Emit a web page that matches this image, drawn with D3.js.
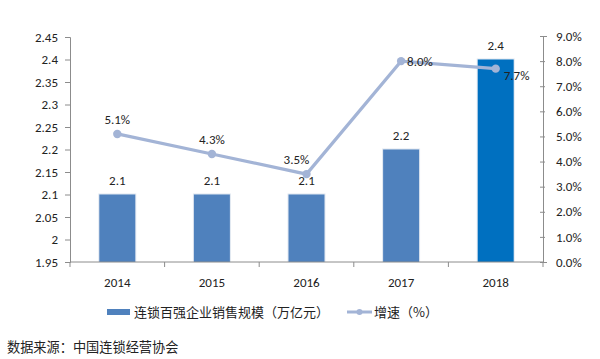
<!DOCTYPE html>
<html><head><meta charset="utf-8">
<script src="https://cdn.jsdelivr.net/npm/d3@7"></script>
<style>body{margin:0;background:#fff}svg{display:block}text{font-family:Calibri,"Liberation Sans","Noto Sans",sans-serif}</style>
</head><body><svg id="c" width="600" height="359"></svg>
<script>
const years = ["2014","2015","2016","2017","2018"];
const scale = [2.1, 2.1, 2.1, 2.2, 2.4];
const growth = [5.1, 4.3, 3.5, 8.0, 7.7];
const leftTicks = [1.95,2,2.05,2.1,2.15,2.2,2.25,2.3,2.35,2.4,2.45];
const rightTicks = [0,1,2,3,4,5,6,7,8,9];
const barName = "连锁百强企业销售规模（万亿元）";
const lineName = "增速（%）";
const source = "数据来源：中国连锁经营协会";

const svg = d3.select("#c");
const L = 70, R = 543, T = 37, B = 262;
const x = d3.scaleBand().domain(years).range([L, R]).paddingInner(0.62).paddingOuter(0.31);
const xb = d3.scaleBand().domain(years).range([L, R]);
const y = d3.scaleLinear().domain([1.95, 2.45]).range([B, T]);
const y2 = d3.scaleLinear().domain([0, 9]).range([B, T - 1]);
const axisColor = "#8c8c8c";

// left axis
const la = svg.append("g").attr("transform", `translate(${L},0)`)
  .call(d3.axisLeft(y).tickValues(leftTicks).tickSize(5).tickPadding(7).tickFormat(d => d3.format("")(+d.toFixed(2))));
la.selectAll("path,line").attr("stroke", axisColor);
la.selectAll("text").attr("font-size", 13).attr("fill", "#222");

// right axis
const ra = svg.append("g").attr("transform", `translate(${R},0)`)
  .call(d3.axisRight(y2).tickValues(rightTicks).tickSize(4).tickPadding(9).tickFormat(d => d.toFixed(1) + "%"));
ra.selectAll("path,line").attr("stroke", axisColor);
ra.selectAll("line").attr("x1", -3).attr("x2", 2);
ra.selectAll("text").attr("font-size", 13).attr("fill", "#222");

// bars
const bars = svg.append("g");
bars.selectAll("rect.sh").data(years).join("rect")
  .attr("x", d => x(d) - 1).attr("y", (d, i) => y(scale[i]) - 1)
  .attr("width", x.bandwidth() + 2).attr("height", (d, i) => B - y(scale[i]) + 1)
  .attr("fill", "#dfe6f0");
bars.selectAll("rect.b").data(years).join("rect")
  .attr("x", d => x(d)).attr("y", (d, i) => y(scale[i]))
  .attr("width", x.bandwidth()).attr("height", (d, i) => B - y(scale[i]))
  .attr("fill", (d, i) => i === 4 ? "#0070c0" : "#4f81bd");

// bottom axis
const ba = svg.append("g").attr("transform", `translate(0,${B})`);
ba.append("line").attr("x1", L).attr("x2", R).attr("stroke", axisColor);
ba.selectAll("line.t").data(years.concat(["end"])).join("line")
  .attr("x1", (d, i) => L + i * xb.bandwidth()).attr("x2", (d, i) => L + i * xb.bandwidth())
  .attr("y1", 0).attr("y2", 5).attr("stroke", axisColor);
ba.selectAll("text").data(years).join("text")
  .attr("x", d => xb(d) + xb.bandwidth() / 2).attr("y", 25)
  .attr("text-anchor", "middle").attr("font-size", 13).attr("fill", "#222").text(d => d);

// bar labels
svg.append("g").selectAll("text").data(years).join("text")
  .attr("x", d => x(d) + x.bandwidth() / 2).attr("y", (d, i) => y(scale[i]) - 10)
  .attr("text-anchor", "middle").attr("font-size", 13).attr("fill", "#222")
  .text((d, i) => scale[i].toFixed(1));

// line
const cx = d => xb(d) + xb.bandwidth() / 2;
const line = d3.line().x((d, i) => cx(years[i])).y(d => y2(d));
svg.append("path").datum(growth).attr("d", line).attr("fill", "none")
  .attr("stroke", "#a3b4d6").attr("stroke-width", 3.2);
svg.append("g").selectAll("circle").data(growth).join("circle")
  .attr("cx", (d, i) => cx(years[i])).attr("cy", d => y2(d)).attr("r", 4.2)
  .attr("fill", "#a3b4d6");

// line labels
const off = [[0, -10, "middle"], [0, -10, "middle"], [-10, -10, "middle"], [6, 5, "start"], [8, 11, "start"]];
svg.append("g").selectAll("text").data(growth).join("text")
  .attr("x", (d, i) => cx(years[i]) + off[i][0]).attr("y", (d, i) => y2(d) + off[i][1])
  .attr("text-anchor", (d, i) => off[i][2]).attr("font-size", 13).attr("fill", "#222")
  .text(d => d.toFixed(1) + "%");

// legend
const lg = svg.append("g");
lg.append("rect").attr("x", 107).attr("y", 309).attr("width", 23).attr("height", 6).attr("fill", "#4f81bd");
lg.append("text").attr("x", 134).attr("y", 317).attr("font-size", 13).attr("fill", "#222")
  .style("font-family", "'Noto Sans CJK SC',sans-serif").text(barName);
lg.append("line").attr("x1", 347).attr("x2", 372).attr("y1", 312).attr("y2", 312)
  .attr("stroke", "#a3b4d6").attr("stroke-width", 3);
lg.append("circle").attr("cx", 359.5).attr("cy", 312).attr("r", 3).attr("fill", "#a3b4d6");
lg.append("text").attr("x", 374).attr("y", 317).attr("font-size", 13).attr("fill", "#222")
  .style("font-family", "'Noto Sans CJK SC',sans-serif").text(lineName);

svg.append("text").attr("x", 7).attr("y", 352).attr("font-size", 13.2).attr("fill", "#222")
  .style("font-family", "'Noto Sans CJK SC',sans-serif").text(source);
</script></body></html>
